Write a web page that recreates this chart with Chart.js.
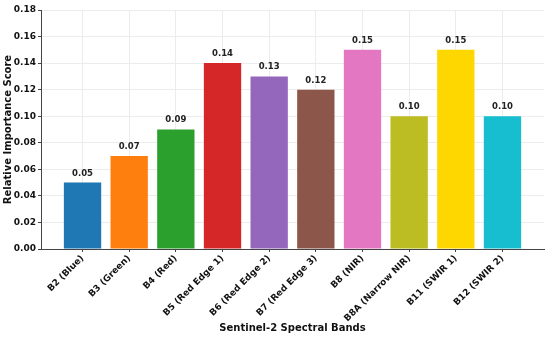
<!DOCTYPE html>
<html>
<head>
<meta charset="utf-8">
<script src="https://cdn.jsdelivr.net/npm/chart.js@4"></script>
<style>
  body { margin: 0; background: #fff; }
  canvas { display: block; }
</style>
</head>
<body>
<canvas id="bandChart" width="550" height="338"></canvas>
<script>
const bands = ["B2 (Blue)", "B3 (Green)", "B4 (Red)", "B5 (Red Edge 1)", "B6 (Red Edge 2)",
    "B7 (Red Edge 3)", "B8 (NIR)", "B8A (Narrow NIR)", "B11 (SWIR 1)", "B12 (SWIR 2)"];
const importance = [0.05, 0.07, 0.09, 0.14, 0.13, 0.12, 0.15, 0.10, 0.15, 0.10];
const barColors = ["#1f77b4", "#ff7f0e", "#2ca02c", "#d62728", "#9467bd",
    "#8c564b", "#e377c2", "#bcbd22", "#ffd700", "#17becf"];
const yTicks = [0, 0.02, 0.04, 0.06, 0.08, 0.10, 0.12, 0.14, 0.16, 0.18];

const fontFamily = "'DejaVu Sans', sans-serif";

// value labels above each bar
const valueLabels = {
    id: 'valueLabels',
    afterDatasetsDraw(chart) {
        const ctx = chart.ctx;
        const xs = chart.scales.x, ys = chart.scales.y;
        ctx.save();
        ctx.font = "bold 8.5px " + fontFamily;
        ctx.fillStyle = '#222';
        ctx.textAlign = 'center';
        ctx.textBaseline = 'bottom';
        importance.forEach((v, i) => {
            ctx.fillText(v.toFixed(2), xs.getPixelForValue(i), ys.getPixelForValue(v) - 5);
        });
        ctx.restore();
    }
};

new Chart(document.getElementById('bandChart'), {
    type: 'bar',
    data: {
        datasets: [{
            data: importance.map((v, i) => ({ x: i, y: v })),
            backgroundColor: barColors,
            borderWidth: 0,
            barPercentage: 0.8,
            categoryPercentage: 1.0
        }]
    },
    plugins: [valueLabels],
    options: {
        responsive: false,
        animation: false,
        layout: { padding: { top: 10, right: 6, left: 0, bottom: 0 } },
        plugins: {
            legend: { display: false },
            tooltip: { enabled: false }
        },
        scales: {
            x: {
                type: 'linear',
                offset: false,
                min: -0.89,
                max: 9.89,
                afterBuildTicks: axis => { axis.ticks = bands.map((b, i) => ({ value: i })); },
                afterFit: axis => { axis.height = 89; },
                grid: { color: '#ececec', tickColor: '#444', tickLength: 3, offset: false },
                border: { color: '#444', width: 1 },
                ticks: {
                    autoSkip: false,
                    maxRotation: 45,
                    minRotation: 45,
                    padding: 1,
                    color: '#111',
                    font: { family: fontFamily, size: 9, weight: 'bold' },
                    callback: v => bands[v]
                },
                title: {
                    display: true,
                    text: 'Sentinel-2 Spectral Bands',
                    color: '#111',
                    font: { family: fontFamily, size: 10, weight: 'bold' },
                    padding: { top: 0, bottom: 4 }
                }
            },
            y: {
                min: 0,
                max: 0.18,
                afterBuildTicks: axis => { axis.ticks = yTicks.map(v => ({ value: v })); },
                afterFit: axis => { axis.width = 41; },
                grid: { color: '#ececec', tickColor: '#444', tickLength: 3 },
                border: { color: '#444', width: 1 },
                ticks: {
                    padding: 2,
                    color: '#111',
                    font: { family: fontFamily, size: 9, weight: 'bold' },
                    callback: v => v.toFixed(2)
                },
                title: {
                    display: true,
                    text: 'Relative Importance Score',
                    color: '#111',
                    font: { family: fontFamily, size: 10, weight: 'bold' },
                    padding: { top: 2, bottom: 0 }
                }
            }
        }
    }
});
</script>
</body>
</html>
